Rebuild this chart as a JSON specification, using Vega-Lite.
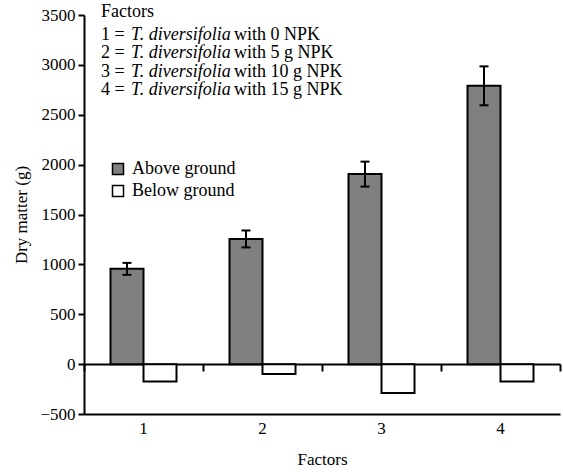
{
  "$schema": "https://vega.github.io/schema/vega-lite/v6.json",
  "width": 476,
  "height": 399,
  "autosize": {"type": "none"},
  "padding": {"left": 84, "top": 15, "right": 3, "bottom": 58},
  "background": "white",
  "config": {
    "view": {"stroke": null},
    "font": "Liberation Serif",
    "style": {
      "guide-label": {"font": "Liberation Serif", "fontSize": 17, "fill": "black"},
      "guide-title": {"font": "Liberation Serif", "fontSize": 17, "fill": "black", "fontWeight": "normal"}
    },
    "axis": {
      "domainColor": "black",
      "domainWidth": 2,
      "tickColor": "black",
      "tickWidth": 2,
      "labelColor": "black",
      "labelFont": "Liberation Serif",
      "labelFontSize": 17,
      "titleColor": "black",
      "titleFont": "Liberation Serif",
      "titleFontSize": 17,
      "titleFontWeight": "normal",
      "grid": false
    },
    "axisY": {"labelColor": "black", "labelFont": "Liberation Serif", "labelFontSize": 17},
    "axisLeft": {"labelColor": "black", "labelFont": "Liberation Serif", "labelFontSize": 17},
    "axisQuantitative": {"labelColor": "black", "labelFont": "Liberation Serif", "labelFontSize": 17}
  },
  "datasets": {
    "bars": [
      {"Factor": "1", "Part": "Above ground", "value": 955, "lo": 895, "hi": 1015},
      {"Factor": "1", "Part": "Below ground", "value": -175},
      {"Factor": "2", "Part": "Above ground", "value": 1255, "lo": 1170, "hi": 1340},
      {"Factor": "2", "Part": "Below ground", "value": -100},
      {"Factor": "3", "Part": "Above ground", "value": 1905, "lo": 1780, "hi": 2030},
      {"Factor": "3", "Part": "Below ground", "value": -290},
      {"Factor": "4", "Part": "Above ground", "value": 2790, "lo": 2595, "hi": 2985},
      {"Factor": "4", "Part": "Below ground", "value": -175}
    ],
    "notes": [
      {"Factor": "1", "seg": "head", "ty": 3480, "text": "Factors"},
      {"Factor": "1", "seg": "prefix", "ty": 3250, "text": "1 ="},
      {"Factor": "1", "seg": "italic", "ty": 3250, "text": "T. diversifolia"},
      {"Factor": "1", "seg": "suffix", "ty": 3250, "text": "with 0 NPK"},
      {"Factor": "1", "seg": "prefix", "ty": 3065, "text": "2 ="},
      {"Factor": "1", "seg": "italic", "ty": 3065, "text": "T. diversifolia"},
      {"Factor": "1", "seg": "suffix", "ty": 3065, "text": "with 5 g NPK"},
      {"Factor": "1", "seg": "prefix", "ty": 2880, "text": "3 ="},
      {"Factor": "1", "seg": "italic", "ty": 2880, "text": "T. diversifolia"},
      {"Factor": "1", "seg": "suffix", "ty": 2880, "text": "with 10 g NPK"},
      {"Factor": "1", "seg": "prefix", "ty": 2695, "text": "4 ="},
      {"Factor": "1", "seg": "italic", "ty": 2695, "text": "T. diversifolia"},
      {"Factor": "1", "seg": "suffix", "ty": 2695, "text": "with 15 g NPK"}
    ]
  },
  "layer": [
    {
      "data": {"name": "bars"},
      "mark": {"type": "bar", "stroke": "black", "strokeWidth": 2},
      "encoding": {
        "x": {
          "field": "Factor",
          "type": "nominal",
          "scale": {"paddingInner": 0, "paddingOuter": 0},
          "title": "Factors",
          "axis": {
            "orient": "bottom",
            "labelAngle": 0,
            "ticks": false,
            "tickSize": 0,
            "labelPadding": 6,
            "titlePadding": 15
          }
        },
        "xOffset": {
          "field": "Part",
          "type": "nominal",
          "scale": {"domain": ["Above ground", "Below ground"], "paddingInner": 0, "paddingOuter": 0.803}
        },
        "y": {
          "field": "value",
          "type": "quantitative",
          "scale": {"domain": [-500, 3500], "nice": false, "zero": false},
          "title": "Dry matter (g)",
          "axis": {
            "orient": "left",
            "values": [-500, 0, 500, 1000, 1500, 2000, 2500, 3000, 3500],
            "format": "d",
            "labelFont": "Liberation Serif",
            "labelFontSize": 17,
            "labelColor": "black",
            "tickSize": 6,
            "labelPadding": 3,
            "titlePadding": 9
          }
        },
        "fill": {
          "field": "Part",
          "type": "nominal",
          "scale": {"domain": ["Above ground", "Below ground"], "range": ["#808080", "#ffffff"]},
          "legend": {
            "orient": "none",
            "legendX": 25,
            "legendY": 145,
            "title": null,
            "padding": 0,
            "symbolType": "square",
            "symbolSize": 121,
            "symbolStrokeColor": "black",
            "symbolStrokeWidth": 1.5,
            "labelFont": "Liberation Serif",
            "labelFontSize": 18,
            "labelColor": "black",
            "labelOffset": 5,
            "rowPadding": 4
          }
        }
      }
    },
    {
      "data": {"name": "bars"},
      "mark": {"type": "rule", "opacity": 0},
      "encoding": {
        "x": {
          "field": "Factor",
          "type": "nominal",
          "axis": {
            "orient": "bottom",
            "offset": -50,
            "labels": false,
            "title": null,
            "ticks": true,
            "tickBand": "extent",
            "tickSize": 7
          }
        }
      }
    },
    {
      "data": {"name": "bars"},
      "transform": [{"filter": "datum.Part === 'Above ground'"}],
      "mark": {"type": "rule", "strokeWidth": 2, "color": "black"},
      "encoding": {
        "x": {"field": "Factor", "type": "nominal", "axis": null},
        "xOffset": {"field": "Part", "type": "nominal"},
        "y": {"field": "lo", "type": "quantitative", "title": "Dry matter (g)"},
        "y2": {"field": "hi"}
      }
    },
    {
      "data": {"name": "bars"},
      "transform": [{"filter": "datum.Part === 'Above ground'"}],
      "mark": {"type": "tick", "thickness": 2, "size": 9, "color": "black", "opacity": 1},
      "encoding": {
        "x": {"field": "Factor", "type": "nominal", "axis": null},
        "xOffset": {"field": "Part", "type": "nominal"},
        "y": {"field": "lo", "type": "quantitative", "title": "Dry matter (g)"}
      }
    },
    {
      "data": {"name": "bars"},
      "transform": [{"filter": "datum.Part === 'Above ground'"}],
      "mark": {"type": "tick", "thickness": 2, "size": 9, "color": "black", "opacity": 1},
      "encoding": {
        "x": {"field": "Factor", "type": "nominal", "axis": null},
        "xOffset": {"field": "Part", "type": "nominal"},
        "y": {"field": "hi", "type": "quantitative", "title": "Dry matter (g)"}
      }
    },
    {
      "data": {"name": "notes"},
      "transform": [{"filter": "datum.seg === 'head' || datum.seg === 'prefix'"}],
      "mark": {"type": "text", "align": "left", "baseline": "alphabetic", "dx": -42.5, "font": "Liberation Serif", "fontSize": 18, "color": "black"},
      "encoding": {
        "x": {"field": "Factor", "type": "nominal", "axis": null},
        "y": {"field": "ty", "type": "quantitative", "title": "Dry matter (g)"},
        "text": {"field": "text"}
      }
    },
    {
      "data": {"name": "notes"},
      "transform": [{"filter": "datum.seg === 'italic'"}],
      "mark": {"type": "text", "align": "left", "baseline": "alphabetic", "dx": -12.5, "font": "Liberation Serif", "fontSize": 18, "fontStyle": "italic", "color": "black"},
      "encoding": {
        "x": {"field": "Factor", "type": "nominal", "axis": null},
        "y": {"field": "ty", "type": "quantitative", "title": "Dry matter (g)"},
        "text": {"field": "text"}
      }
    },
    {
      "data": {"name": "notes"},
      "transform": [{"filter": "datum.seg === 'suffix'"}],
      "mark": {"type": "text", "align": "left", "baseline": "alphabetic", "dx": 90.5, "font": "Liberation Serif", "fontSize": 18, "color": "black"},
      "encoding": {
        "x": {"field": "Factor", "type": "nominal", "axis": null},
        "y": {"field": "ty", "type": "quantitative", "title": "Dry matter (g)"},
        "text": {"field": "text"}
      }
    }
  ],
  "resolve": {"axis": {"x": "independent"}}
}
